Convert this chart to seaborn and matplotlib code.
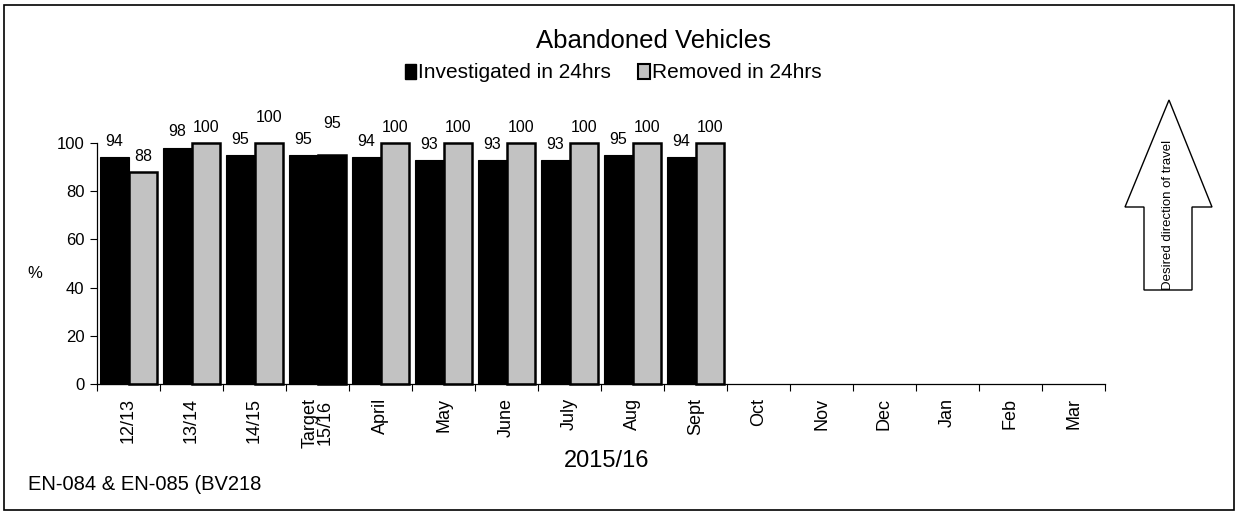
import numpy as np
import pandas as pd
import matplotlib
matplotlib.use("Agg")
import matplotlib.pyplot as plt
from matplotlib.patches import Polygon, Rectangle
from matplotlib.ticker import FixedLocator
import seaborn as sns

# --- data -------------------------------------------------------------
categories = ["12/13", "13/14", "14/15", "Target\n15/16", "April", "May", "June",
              "July", "Aug", "Sept", "Oct", "Nov", "Dec", "Jan", "Feb", "Mar"]
investigated = [94, 98, 95, 95, 94, 93, 93, 93, 95, 94]
removed = [88, 100, 100, 95, 100, 100, 100, 100, 100, 100]
series_names = ["Investigated in 24hrs", "Removed in 24hrs"]
y_ticks = [0, 20, 40, 60, 80, 100]

n_obs = len(investigated)
df = pd.DataFrame({
    "period": categories[:n_obs] * 2,
    "value": investigated + removed,
    "series": [series_names[0]] * n_obs + [series_names[1]] * n_obs,
})

# --- style ------------------------------------------------------------
sns.set_style("white")
plt.rcParams["font.family"] = ["Liberation Sans", "DejaVu Sans"]
for key in ["text.color", "axes.labelcolor", "xtick.color", "ytick.color"]:
    plt.rcParams[key] = "black"

W, H = 1239, 513
fig = plt.figure(figsize=(W / 100, H / 100), dpi=100)

def fx(px):
    return px / W

def fy(py):
    return 1 - py / H

ax = fig.add_axes([fx(97), fy(384), fx(1105) - fx(97), fy(143) - fy(384)])

sns.barplot(data=df, x="period", y="value", hue="series", order=categories,
            hue_order=series_names, palette=["black", "#c2c2c2"],
            width=0.92, legend=False, ax=ax, saturation=1)

inv_bars, rem_bars = ax.containers[0], ax.containers[1]
for p in inv_bars:
    p.set_edgecolor("black")
    p.set_linewidth(0.8)
    p.set_clip_on(False)
for p in rem_bars:
    p.set_edgecolor("black")
    p.set_linewidth(1.8)
    p.set_clip_on(False)
# the target column is drawn solid for both series
rem_bars[3].set_facecolor("black")

# value labels above every bar
extra_lift = {(1, 2): 7, (1, 3): 11}
for s, cont in enumerate(ax.containers):
    for i, p in enumerate(cont):
        h = p.get_height()
        ax.annotate(f"{h:.0f}", (p.get_x() + p.get_width() / 2, h),
                    xytext=(0, 6 + extra_lift.get((s, i), 0)),
                    textcoords="offset points", ha="center", va="bottom",
                    fontsize=11.5, annotation_clip=False)

ax.set_xlim(-0.5, len(categories) - 0.5)
ax.set_ylim(0, 100)
ax.set_yticks(y_ticks)
ax.tick_params(axis="y", labelsize=12, length=5, width=0.8, direction="out",
               left=True, pad=4)
ax.set_xticks(range(len(categories)))
ax.set_xticklabels(categories, rotation=90, fontsize=13, linespacing=0.9)
ax.tick_params(axis="x", which="major", length=0, pad=10)
ax.xaxis.set_minor_locator(FixedLocator(np.arange(-0.5, len(categories), 1.0)))
ax.tick_params(axis="x", which="minor", length=5, width=0.8, direction="out",
               bottom=True)
ax.set_xlabel("")
ax.set_ylabel("")
for side in ["top", "right"]:
    ax.spines[side].set_visible(False)
for side in ["left", "bottom"]:
    ax.spines[side].set_color("black")
    ax.spines[side].set_linewidth(0.9)

# titles and captions
fig.text(fx(654), fy(41), "Abandoned Vehicles", ha="center", va="center", fontsize=18.5)
fig.text(fx(35), fy(274), "%", ha="center", va="center", fontsize=12)
fig.text(fx(607), fy(461), "2015/16", ha="center", va="center", fontsize=17)
fig.text(fx(28), fy(484), "EN-084 & EN-085 (BV218", ha="left", va="center",
         fontsize=14.5)

# legend
handles = [Rectangle((0, 0), 1, 1, facecolor="black", edgecolor="black"),
           Rectangle((0, 0), 1, 1, facecolor="#c2c2c2", edgecolor="black", linewidth=1.5)]
fig.legend(handles, series_names, loc="center", bbox_to_anchor=(fx(613), fy(73)),
           ncol=2, frameon=False, fontsize=15, handlelength=0.55, handleheight=0.7,
           handletextpad=0.1, columnspacing=1.3, borderaxespad=0, borderpad=0)

# direction arrow
arrow_px = [(1169, 100), (1125, 207), (1144, 207), (1144, 290),
            (1192, 290), (1192, 207), (1212, 207)]
fig.add_artist(Polygon([(fx(x), fy(y)) for x, y in arrow_px], closed=True,
                       facecolor="white", edgecolor="black", linewidth=1.0))
fig.text(fx(1168), fy(215), "Desired direction of travel", rotation=90,
         ha="center", va="center", fontsize=9.5)

# outer frame
fig.add_artist(Rectangle((fx(4), fy(510)), fx(1234) - fx(4), fy(5) - fy(510),
                         fill=False, edgecolor="black", linewidth=1.2))

fig.savefig("out.png", dpi=100)
